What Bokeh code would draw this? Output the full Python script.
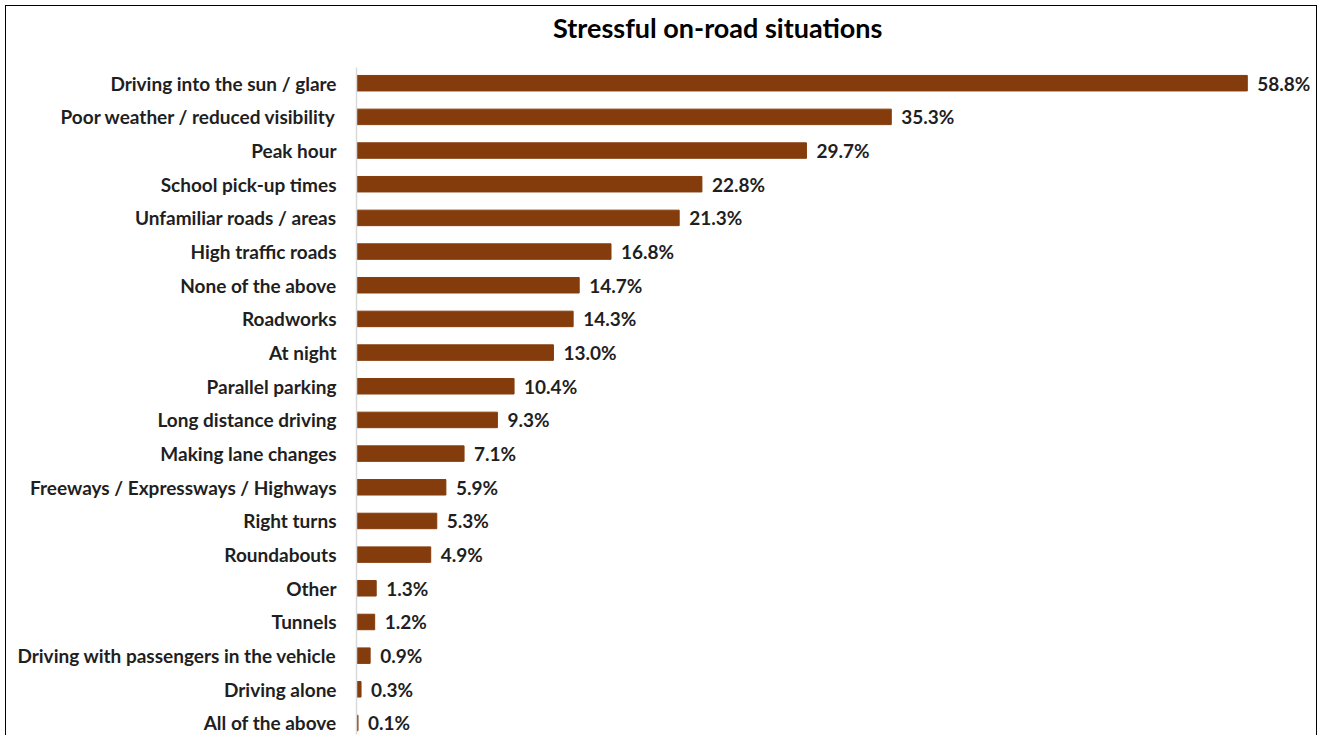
from bokeh.plotting import figure
from bokeh.models import Range1d, ColumnDataSource, Label, FixedTicker
from bokeh.core.properties import value
from bokeh.embed import file_html
from bokeh.resources import INLINE

title_text = "Stressful on-road situations"
categories = [
    "Driving into the sun / glare",
    "Poor weather / reduced visibility",
    "Peak hour",
    "School pick-up times",
    "Unfamiliar roads / areas",
    "High traffic roads",
    "None of the above",
    "Roadworks",
    "At night",
    "Parallel parking",
    "Long distance driving",
    "Making lane changes",
    "Freeways / Expressways / Highways",
    "Right turns",
    "Roundabouts",
    "Other",
    "Tunnels",
    "Driving with passengers in the vehicle",
    "Driving alone",
    "All of the above",
]
values = [58.8, 35.3, 29.7, 22.8, 21.3, 16.8, 14.7, 14.3, 13.0, 10.4,
          9.3, 7.1, 5.9, 5.3, 4.9, 1.3, 1.2, 0.9, 0.3, 0.1]

n = len(categories)
ypos = [n - 1 - i for i in range(n)]          # first category on top
labels = [f"{v:.1f}%" for v in values]
src = ColumnDataSource(dict(y=ypos, val=values, lab=labels))

FONT = "Lato"
BAR = "#843C0C"
TXT = "#1f1f1f"

XMAX = 63.5
Y0, Y1 = -0.342, 21.278   # plot area also holds the title band
p = figure(width=1312, height=730, x_range=Range1d(0, XMAX),
           y_range=Range1d(Y0, Y1), title=None,
           output_backend="svg", toolbar_location=None)
p.styles = {"border": "1.5px solid #000000", "border-bottom": "0px",
            "box-sizing": "border-box",
            "margin-left": "5px", "margin-top": "5px"}

p.min_border_left = 350
p.min_border_right = 0
p.min_border_top = 0
p.min_border_bottom = 2

p.hbar(y="y", right="val", left=0, height=0.46, source=src,
       fill_color=BAR, line_color=BAR)
p.text(x="val", y="y", text="lab", source=src, x_offset=10,
       text_align="left", text_baseline="middle",
       text_font=value(FONT), text_font_style="bold",
       text_font_size="19px", text_color=TXT)

p.add_layout(Label(x=XMAX * 0.3755, y=n - 1 + 1.668, text=title_text,
                   text_align="center", text_baseline="middle",
                   text_font=FONT, text_font_size="27px",
                   text_font_style="bold", text_color="#000000"))

p.xaxis.visible = False
p.xgrid.visible = False
p.ygrid.visible = False
p.outline_line_color = None

ax = p.yaxis[0]
ax.ticker = FixedTicker(ticks=ypos)
ax.major_label_overrides = {y: c for y, c in zip(ypos, categories)}
ax.bounds = (Y0, n - 0.52)
ax.axis_line_color = "#d9d9d9"
ax.axis_line_width = 1.5
ax.major_tick_line_color = None
ax.minor_tick_line_color = None
ax.major_label_text_font = FONT
ax.major_label_text_font_style = "bold"
ax.major_label_text_font_size = "19px"
ax.major_label_text_color = TXT
ax.major_label_standoff = 14

open("out.html", "w").write(file_html(p, INLINE))
